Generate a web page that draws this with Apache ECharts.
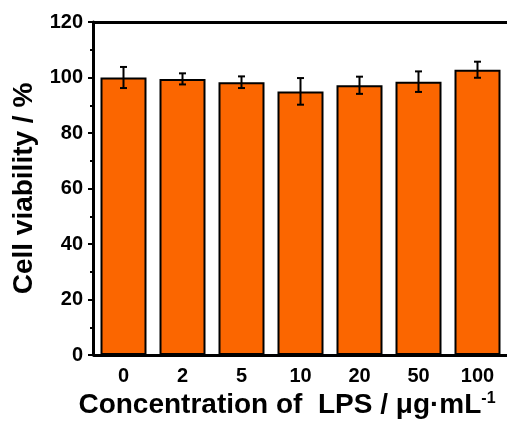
<!DOCTYPE html>
<html>
<head>
<meta charset="utf-8">
<script src="https://cdn.jsdelivr.net/npm/echarts@6/dist/echarts.min.js"></script>
<style>
  html, body { margin: 0; padding: 0; background: #fff; }
  #chart { width: 507px; height: 428px; }
</style>
</head>
<body>
<div id="chart"></div>
<script>
// LPS concentrations (µg/mL) and measured cell viability (%)
var concentrations = ['0', '2', '5', '10', '20', '50', '100'];
var viability = [100.0, 99.5, 98.3, 95.0, 97.2, 98.5, 102.8];
var viabilityErr = [3.8, 2.0, 2.1, 4.8, 3.1, 3.7, 2.9];
var yTicks = [0, 20, 40, 60, 80, 100, 120];

var FONT = 'Arial, "Liberation Sans", sans-serif';

var errorData = concentrations.map(function (c, i) {
  return [i, viability[i] - viabilityErr[i], viability[i] + viabilityErr[i]];
});

var chart = echarts.init(document.getElementById('chart'), null, { renderer: 'canvas' });

chart.setOption({
  animation: false,
  backgroundColor: '#ffffff',
  grid: { left: 94, top: 22, bottom: 73, right: -1.4, containLabel: false },
  xAxis: [{
    type: 'category',
    data: concentrations,
    position: 'bottom',
    axisLine: { lineStyle: { color: '#000', width: 3 } },
    axisTick: { alignWithLabel: true, length: 5, lineStyle: { color: '#000', width: 2 } },
    axisLabel: { color: '#000', fontFamily: FONT, fontWeight: 'bold', fontSize: 20, margin: 11 },
    name: 'Concentration of  LPS / μg·mL{sup|-1}',
    nameLocation: 'middle',
    nameGap: 35,
    nameTextStyle: {
      color: '#000', fontFamily: FONT, fontWeight: 'bold', fontSize: 28,
      padding: [0, 27, 0, 0],
      rich: {
        sup: { fontFamily: FONT, fontWeight: 'bold', fontSize: 16, color: '#000', verticalAlign: 'top', padding: [0, 0, 12, 0] }
      }
    },
    splitLine: { show: false }
  }, {
    type: 'category',
    data: concentrations,
    position: 'top',
    axisLine: { onZero: false, lineStyle: { color: '#000', width: 3 } },
    axisTick: { show: false },
    axisLabel: { show: false },
    splitLine: { show: false }
  }],
  yAxis: {
    type: 'value',
    min: 0,
    max: 120,
    interval: 20,
    offset: 1,
    axisLine: { show: true, lineStyle: { color: '#000', width: 3 } },
    axisTick: { show: true, length: 5, lineStyle: { color: '#000', width: 2 } },
    minorTick: { show: true, splitNumber: 2, length: 3, lineStyle: { color: '#000', width: 2 } },
    axisLabel: {
      color: '#000', fontFamily: FONT, fontWeight: 'bold', fontSize: 20, margin: 10,
      formatter: function (v) { return yTicks.indexOf(v) >= 0 ? String(v) : ''; }
    },
    splitLine: { show: false },
    name: 'Cell viability / %',
    nameLocation: 'middle',
    nameGap: 49,
    nameTextStyle: { color: '#000', fontFamily: FONT, fontWeight: 'bold', fontSize: 28 }
  },
  series: [{
    type: 'bar',
    data: viability,
    barWidth: 46,
    itemStyle: { color: '#FB6600', borderColor: '#000', borderWidth: 2 },
    z: 2
  }, {
    type: 'custom',
    data: errorData,
    z: 3,
    renderItem: function (params, api) {
      var x = api.value(0);
      var lo = api.coord([x, api.value(1)]);
      var hi = api.coord([x, api.value(2)]);
      var cap = 3.5;
      var style = { stroke: '#000', lineWidth: 2, fill: null };
      return {
        type: 'group',
        children: [
          { type: 'line', shape: { x1: hi[0], y1: hi[1], x2: lo[0], y2: lo[1] }, style: style },
          { type: 'line', shape: { x1: hi[0] - cap, y1: hi[1], x2: hi[0] + cap, y2: hi[1] }, style: style },
          { type: 'line', shape: { x1: lo[0] - cap, y1: lo[1], x2: lo[0] + cap, y2: lo[1] }, style: style }
        ]
      };
    }
  }]
});
</script>
</body>
</html>
